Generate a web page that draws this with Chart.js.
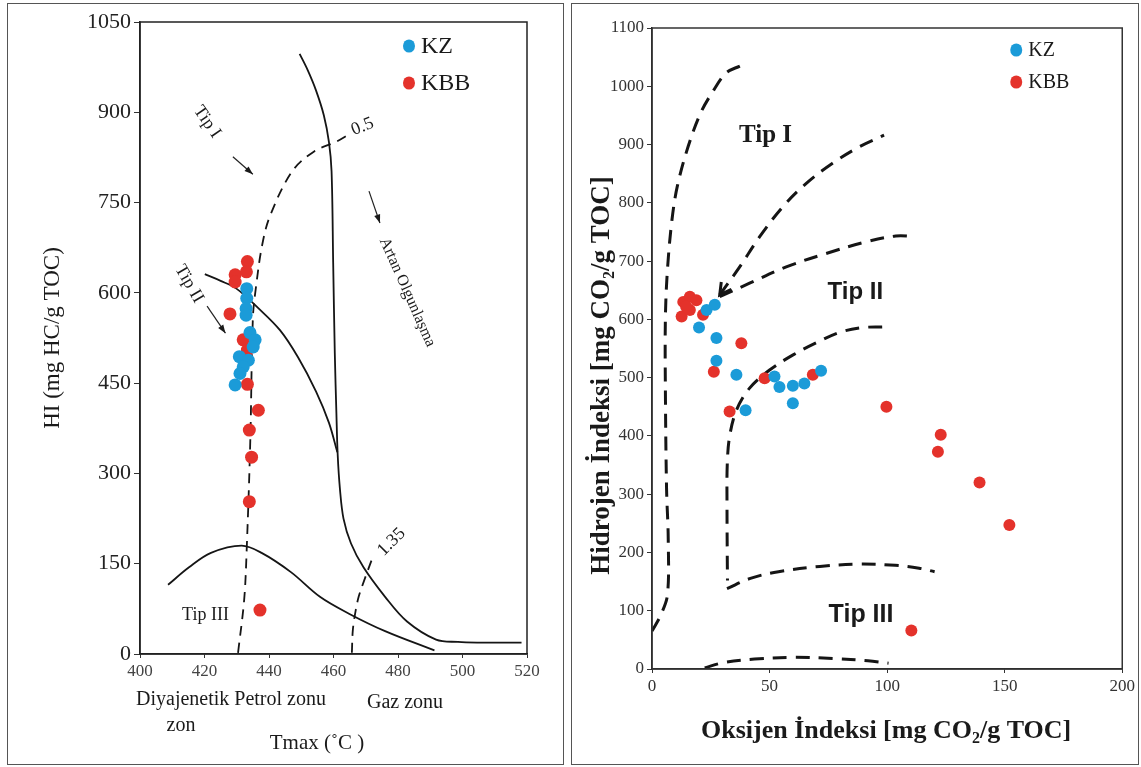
<!DOCTYPE html>
<html>
<head>
<meta charset="utf-8">
<script src="https://cdn.jsdelivr.net/npm/chart.js@4.4.1/dist/chart.umd.min.js"></script>
<style>
  body { margin: 0; background: #fff; width: 1141px; height: 767px; position: relative; overflow: hidden; }
  .frame { position: absolute; border: 1.5px solid #555; box-sizing: border-box; }
  #frame-left { left: 7px; top: 3px; width: 557px; height: 762px; }
  #frame-right { left: 571px; top: 3px; width: 568px; height: 762px; }
  canvas { position: absolute; }
  #tmax-chart { left: 8px; top: 5px; }
  #vk-chart { left: 572px; top: 5px; }
</style>
</head>
<body>
<div class="frame" id="frame-left"></div>
<div class="frame" id="frame-right"></div>
<canvas id="tmax-chart" width="555" height="757"></canvas>
<canvas id="vk-chart" width="566" height="757"></canvas>

<script>
const SERIF = '"Liberation Serif", "Times New Roman", serif';
const SANS = '"Liberation Sans", Arial, sans-serif';
const BLUE = "#1b9bd8";
const RED = "#e4322b";

// ---- HI vs Tmax ----
const tmaxTicks = [400, 420, 440, 460, 480, 500, 520];
const hiTicks = [0, 150, 300, 450, 600, 750, 900, 1050];

const kzTmax = [433.1, 433.1, 432.9, 432.9, 434.1, 435.7, 435.1, 430.8, 433.6, 432.0, 431.0, 429.5];
const kzHi = [607, 591, 574, 563, 534, 522, 510, 494, 488, 477, 466, 447];
const kbbTmax = [433.3, 433.0, 429.5, 429.5, 427.9, 432.0, 433.3, 433.3, 436.7, 433.9, 434.6, 433.9, 437.2];
const kbbHi = [652, 635, 630, 618, 565, 522, 505, 448, 405, 372, 327, 253, 73];

// kerogen type boundaries
const typeOneT = [449.5, 452.0, 454.6, 457.0, 458.6, 459.4, 459.9, 460.4, 460.9, 461.3, 462.0, 463.1, 465.4, 469.3, 476.0, 482.8, 491.8, 498.6, 505.0, 518.3];
const typeOneHi = [997, 970, 936, 895, 850, 802, 650, 500, 400, 331, 274, 225, 184, 144, 95, 54, 24, 20, 19, 19];
const typeTwoT = [420.1, 425.0, 429.9, 436.6, 443.4, 449.0, 454.6, 458.6, 461.2];
const typeTwoHi = [631, 620, 607, 575, 538, 493, 436, 384, 335];
const typeThreeT = [408.7, 415.2, 422.0, 431.5, 437.7, 446.8, 455.8, 464.8, 476.0, 491.3];
const typeThreeHi = [115, 144, 168, 180, 168, 136, 95, 67, 38, 6];

// maturity limits (Ro 0.5 and 1.35)
const ro05T = [430.4, 432.3, 433.1, 434.2, 435.0, 435.9, 437.9, 440.4, 447.2, 454.0, 460.8, 465.0];
const ro05Hi = [2, 90, 176, 355, 558, 607, 680, 729, 802, 835, 851, 864];
const ro135T = [465.7, 466.0, 466.8, 467.8, 469.3, 472.1];
const ro135Hi = [2, 40, 70, 95, 119, 160];

// ---- HI vs OI ----
const oiTicks = [0, 50, 100, 150, 200];
const hiVkTicks = [0, 100, 200, 300, 400, 500, 600, 700, 800, 900, 1000, 1100];

const kzOi = [23.2, 26.7, 20.0, 27.4, 27.4, 35.9, 39.8, 52.1, 54.2, 59.9, 64.8, 59.9, 71.9];
const kzHiVk = [616, 625, 586, 568, 529, 505, 444, 502, 484, 486, 490, 456, 512];
const kbbOi = [13.3, 16.1, 18.9, 12.6, 16.1, 21.7, 14.5, 38.0, 26.3, 33.0, 47.9, 68.4, 99.7, 122.8, 121.6, 139.3, 152.0, 110.3];
const kbbHiVk = [630, 639, 633, 605, 616, 608, 622, 559, 510, 442, 499, 505, 450, 402, 373, 320, 247, 66];

const vkOuterOi = [0, 3.9, 6.6, 6.9, 6.2, 5.7, 5.7, 6.6, 8.5, 10.8, 15.4, 20.8, 26.2, 31.6, 37.5];
const vkOuterHi = [65, 94, 128, 224, 308, 476, 603, 687, 771, 829, 897, 955, 993, 1023, 1035];
const vkTypeOneOi = [28.8, 37.3, 45.8, 55.6, 65.5, 76.8, 88.1, 98.7];
const vkTypeOneHi = [642, 690, 742, 793, 833, 868, 896, 916];
const vkTypeTwoOi = [28.8, 41.5, 57.1, 74.0, 91.0, 103.7, 112.2];
const vkTypeTwoHi = [639, 662, 690, 713, 733, 743, 742];
const vkInnerOi = [97.9, 90.0, 80.0, 70.0, 60.0, 50.0, 41.5, 36.0, 33.0, 32.0, 31.9, 32.0, 32.1];
const vkInnerHi = [587, 586, 578, 560, 539, 513, 482, 445, 399, 350, 280, 200, 152];
const vkTypeThreeOi = [31.9, 42.2, 53.8, 71.4, 87.4, 103.4, 113.6, 120.2];
const vkTypeThreeHi = [138, 156, 167, 176, 180, 178, 173, 167];
const vkBottomOi = [22.4, 30.5, 43.6, 59.7, 77.2, 91.8, 100.6];
const vkBottomHi = [2, 11, 17, 20, 18, 14, 10];

const pts = (xs, ys) => xs.map((x, i) => ({ x, y: ys[i] }));

function dots(label, xs, ys, color, r) {
  return { label, data: pts(xs, ys), backgroundColor: color, borderWidth: 0, pointRadius: r, pointHoverRadius: r };
}

function curve(xs, ys, width, dash) {
  return {
    data: pts(xs, ys), showLine: true, pointRadius: 0, borderColor: "#151515",
    borderWidth: width, borderDash: dash || [], tension: 0.35, fill: false
  };
}

function text(ctx, str, x, y, font, angle, align) {
  ctx.save();
  ctx.translate(x, y);
  ctx.rotate((angle || 0) * Math.PI / 180);
  ctx.font = font;
  ctx.fillStyle = "#1a1a1a";
  ctx.textAlign = align || "center";
  ctx.textBaseline = "middle";
  ctx.fillText(str, 0, 0);
  ctx.restore();
}

// text with a subscript "2" in the middle (CO2)
function textSub(ctx, before, sub, after, x, y, size, angle) {
  const font = `bold ${size}px ${SERIF}`;
  const subFont = `bold ${Math.round(size * 0.6)}px ${SERIF}`;
  ctx.save();
  ctx.translate(x, y);
  ctx.rotate((angle || 0) * Math.PI / 180);
  ctx.fillStyle = "#1a1a1a";
  ctx.textBaseline = "alphabetic";
  ctx.font = font;
  const w1 = ctx.measureText(before).width, w3 = ctx.measureText(after).width;
  ctx.font = subFont;
  const w2 = ctx.measureText(sub).width;
  let cx = -(w1 + w2 + w3) / 2;
  const base = size * 0.35;
  ctx.font = font; ctx.fillText(before, cx, base); cx += w1;
  ctx.font = subFont; ctx.fillText(sub, cx, base + size * 0.18); cx += w2;
  ctx.font = font; ctx.fillText(after, cx, base);
  ctx.restore();
}

function arrow(ctx, x1, y1, x2, y2, head) {
  const a = Math.atan2(y2 - y1, x2 - x1);
  ctx.beginPath();
  ctx.moveTo(x1, y1);
  ctx.lineTo(x2, y2);
  ctx.stroke();
  ctx.beginPath();
  ctx.moveTo(x2, y2);
  ctx.lineTo(x2 - head * Math.cos(a - 0.35), y2 - head * Math.sin(a - 0.35));
  ctx.lineTo(x2 - head * Math.cos(a + 0.35), y2 - head * Math.sin(a + 0.35));
  ctx.closePath();
  ctx.fill();
}

function legend(ctx, chart, x, y, gap, size, r) {
  const items = chart.data.datasets.filter(d => d.label);
  items.forEach((d, i) => {
    const yy = y + i * gap;
    ctx.beginPath();
    ctx.fillStyle = d.backgroundColor;
    ctx.ellipse(x, yy, r, r * 1.1, 0, 0, Math.PI * 2);
    ctx.fill();
    text(ctx, d.label, x + r + 6, yy + 1, `${size}px ${SERIF}`, 0, "left");
  });
}

function axis(ticks, min, max, size, color, fit, tickLen) {
  return {
    type: "linear", min, max,
    afterBuildTicks: s => { s.ticks = ticks.map(v => ({ value: v })); },
    afterFit: fit,
    ticks: { font: { family: SERIF, size }, color, padding: 3, callback: v => String(v) },
    grid: { drawOnChartArea: false, drawTicks: true, tickLength: tickLen, color: "#333" },
    border: { color: "#222", width: 1.5 }
  };
}

const tmaxNotes = {
  id: "tmaxNotes",
  afterDraw(chart) {
    const { ctx, chartArea: a, scales: { x, y } } = chart;
    const px = v => x.getPixelForValue(v), py = v => y.getPixelForValue(v);
    ctx.save();
    ctx.strokeStyle = "#222";
    ctx.lineWidth = 1.5;
    ctx.strokeRect(a.left, a.top, a.width, a.height);

    ctx.fillStyle = "#1a1a1a";
    ctx.lineWidth = 1.2;
    text(ctx, "Tip I", px(420.8), py(884), `18px ${SERIF}`, 55);
    arrow(ctx, px(428.8), py(826), px(435), py(797), 9);
    text(ctx, "Tip II", px(415.2), py(615), `18px ${SERIF}`, 60);
    arrow(ctx, px(420.8), py(578), px(426.5), py(533), 9);
    text(ctx, "Tip III", px(420.3), py(64), `18px ${SERIF}`);
    text(ctx, "Artan Olgunlaşma", px(482.9), py(601), `16px ${SERIF}`, 66);
    ctx.fillStyle = "#1a1a1a";
    arrow(ctx, px(471), py(769), px(474.4), py(716), 9);
    text(ctx, "0.5", px(469), py(876), `18px ${SERIF}`, -22);
    text(ctx, "1.35", px(478), py(186), `18px ${SERIF}`, -45);

    // axis titles and zone names
    text(ctx, "HI (mg HC/g TOC)", 45, (a.top + a.bottom) / 2, `23px ${SERIF}`, -90);
    text(ctx, "Diyajenetik Petrol zonu", a.left - 4, a.bottom + 46, `20px ${SERIF}`, 0, "left");
    text(ctx, "zon", a.left + 41, a.bottom + 72, `20px ${SERIF}`);
    text(ctx, "Gaz zonu", a.left + 227, a.bottom + 49, `20px ${SERIF}`, 0, "left");
    text(ctx, "Tmax (˚C )", a.left + 177, a.bottom + 89, `21px ${SERIF}`);

    legend(ctx, chart, a.right - 118, a.top + 24, 37, 24, 6);
    ctx.restore();
  }
};

const vkNotes = {
  id: "vkNotes",
  afterDraw(chart) {
    const { ctx, chartArea: a, scales: { x, y } } = chart;
    const px = v => x.getPixelForValue(v), py = v => y.getPixelForValue(v);
    ctx.save();
    ctx.strokeStyle = "#333";
    ctx.lineWidth = 1.5;
    ctx.strokeRect(a.left, a.top, a.width, a.height);

    // arrow head where the type I and type II limits meet
    const tx = px(vkTypeOneOi[0]), ty = py(vkTypeOneHi[0]);
    const ang = Math.atan2(ty - py(vkTypeOneHi[1]), tx - px(vkTypeOneOi[1]));
    ctx.strokeStyle = "#151515";
    ctx.lineWidth = 3;
    ctx.beginPath();
    ctx.moveTo(tx - 13 * Math.cos(ang - 0.5), ty - 13 * Math.sin(ang - 0.5));
    ctx.lineTo(tx, ty);
    ctx.lineTo(tx - 13 * Math.cos(ang + 0.5), ty - 13 * Math.sin(ang + 0.5));
    ctx.stroke();

    text(ctx, "Tip I", px(48.3), py(916), `bold 25px ${SERIF}`);
    text(ctx, "Tip II", px(86.5), py(646), `bold 24px ${SANS}`);
    text(ctx, "Tip III", px(88.9), py(92), `bold 25px ${SANS}`);

    textSub(ctx, "Hidrojen İndeksi [mg CO", "2", "/g TOC]", 28, (a.top + a.bottom) / 2 + 27, 27, -90);
    textSub(ctx, "Oksijen İndeksi [mg CO", "2", "/g TOC]", (a.left + a.right) / 2 - 1, a.bottom + 60, 26, 0);

    legend(ctx, chart, a.right - 106, a.top + 22, 32, 20, 6);
    ctx.restore();
  }
};

new Chart(document.getElementById("tmax-chart"), {
  type: "scatter",
  data: {
    datasets: [
      dots("KZ", kzTmax, kzHi, BLUE, 6.5),
      dots("KBB", kbbTmax, kbbHi, RED, 6.5),
      curve(typeOneT, typeOneHi, 1.8),
      curve(typeTwoT, typeTwoHi, 1.8),
      curve(typeThreeT, typeThreeHi, 1.8),
      curve(ro05T, ro05Hi, 1.8, [10, 7]),
      curve(ro135T, ro135Hi, 1.8, [10, 7])
    ]
  },
  options: {
    responsive: false,
    animation: false,
    devicePixelRatio: 1,
    layout: { padding: { top: 17, right: 36, left: 0, bottom: 0 } },
    plugins: { legend: { display: false }, tooltip: { enabled: false } },
    scales: {
      x: axis(tmaxTicks, 400, 520, 17, "#444", s => { s.height = 108; }, 4),
      y: axis(hiTicks, 0, 1050, 22, "#222", s => { s.width = 132; }, 6)
    }
  },
  plugins: [tmaxNotes]
});

new Chart(document.getElementById("vk-chart"), {
  type: "scatter",
  data: {
    datasets: [
      dots("KZ", kzOi, kzHiVk, BLUE, 6),
      dots("KBB", kbbOi, kbbHiVk, RED, 6),
      curve(vkOuterOi, vkOuterHi, 3, [14, 9]),
      curve(vkTypeOneOi, vkTypeOneHi, 3, [14, 9]),
      curve(vkTypeTwoOi, vkTypeTwoHi, 3, [14, 9]),
      curve(vkInnerOi, vkInnerHi, 3, [14, 9]),
      curve(vkTypeThreeOi, vkTypeThreeHi, 3, [14, 9]),
      curve(vkBottomOi, vkBottomHi, 3, [14, 9])
    ]
  },
  options: {
    responsive: false,
    animation: false,
    devicePixelRatio: 1,
    layout: { padding: { top: 23, right: 14, left: 0, bottom: 0 } },
    plugins: { legend: { display: false }, tooltip: { enabled: false } },
    scales: {
      x: axis(oiTicks, 0, 200, 17, "#333", s => { s.height = 93; }, 4),
      y: axis(hiVkTicks, 0, 1100, 17, "#333", s => { s.width = 80; }, 5)
    }
  },
  plugins: [vkNotes]
});
</script>
</body>
</html>
